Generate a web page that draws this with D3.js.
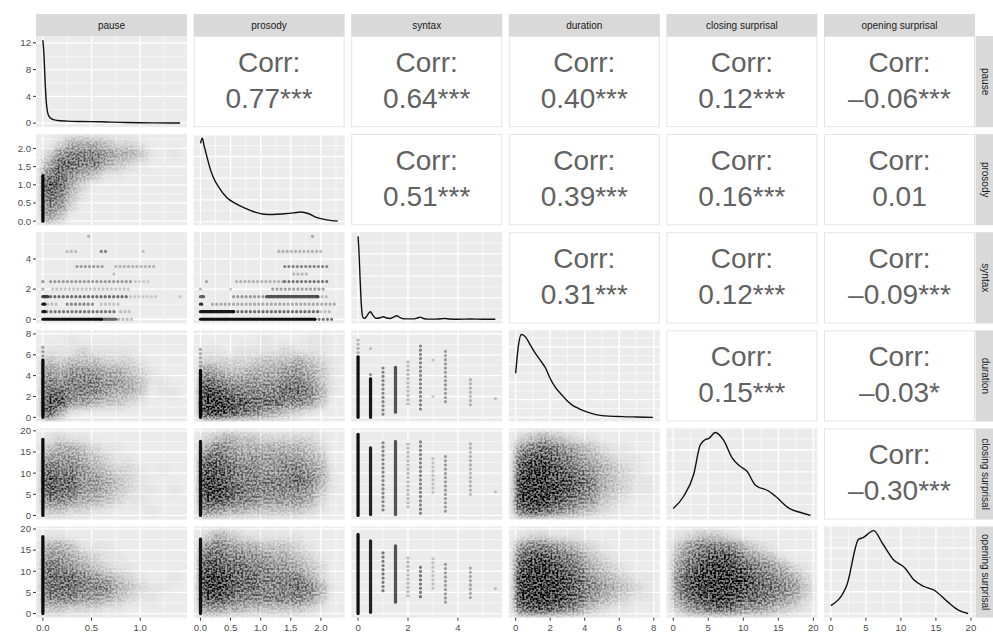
<!DOCTYPE html>
<html>
<head>
<meta charset="utf-8">
<script src="https://cdn.jsdelivr.net/npm/d3@7"></script>
<style>
  body { margin: 0; background: #fff; }
  text { font-family: "Liberation Sans", Arial, sans-serif; }
</style>
</head>
<body>
<svg id="chart" width="993" height="637"></svg>
<script>
// variables of the pairs plot
var variables = ["pause", "prosody", "syntax", "duration", "closing surprisal", "opening surprisal"];
var varMax = [1.41, 2.28, 5.5, 7.95, 19.6, 19.6];
var majorTicks = [[0, 0.5, 1], [0, 0.5, 1, 1.5, 2], [0, 2, 4], [0, 2, 4, 6, 8], [0, 5, 10, 15, 20], [0, 5, 10, 15, 20]];
var tickLabels = [["0.0", "0.5", "1.0"], ["0.0", "0.5", "1.0", "1.5", "2.0"], ["0", "2", "4"],
                  ["0", "2", "4", "6", "8"], ["0", "5", "10", "15", "20"], ["0", "5", "10", "15", "20"]];
var densityStep = [4, 0.5, 2, 0.1, 0.025, 0.025];
var densityTicks = [0, 4, 8, 12];

// correlations, upper triangle, row by row
var corrValues = [0.77, 0.64, 0.40, 0.12, -0.06, 0.51, 0.39, 0.16, 0.01, 0.31, 0.12, -0.09, 0.15, -0.03, -0.30];
var corrStars = ["***", "***", "***", "***", "***", "***", "***", "***", "", "***", "***", "***", "***", "*", "***"];

// diagonal densities [value, density]
var densityPause = [[0, 12.4], [0.01, 10.5], [0.024, 5.9], [0.036, 3], [0.048, 1.65], [0.06, 1.1], [0.075, 0.8],
  [0.1, 0.55], [0.15, 0.4], [0.25, 0.3], [0.4, 0.24], [0.59, 0.2], [0.7, 0.15], [0.85, 0.1], [1.0, 0.05],
  [1.15, 0.03], [1.3, 0.02], [1.41, 0.01]];
var densityProsody = [[0, 1.8], [0.03, 1.92], [0.06, 1.75], [0.11, 1.48], [0.17, 1.18], [0.22, 1.0], [0.3, 0.8],
  [0.44, 0.55], [0.58, 0.42], [0.72, 0.32], [0.9, 0.22], [1.06, 0.17], [1.2, 0.165], [1.39, 0.18], [1.55, 0.2],
  [1.67, 0.22], [1.8, 0.18], [1.94, 0.09], [2.1, 0.04], [2.28, 0.01]];
var densitySyntax = [[0, 7.6], [0.04, 6], [0.08, 3.8], [0.12, 1.8], [0.16, 0.6], [0.2, 0.2], [0.27, 0.12],
  [0.38, 0.45], [0.49, 0.74], [0.6, 0.4], [0.7, 0.14], [0.8, 0.14], [0.92, 0.22], [1.02, 0.28], [1.14, 0.16],
  [1.29, 0.12], [1.42, 0.25], [1.55, 0.37], [1.68, 0.2], [1.82, 0.1], [2.0, 0.08], [2.2, 0.08], [2.35, 0.14],
  [2.49, 0.24], [2.62, 0.12], [2.8, 0.06], [3.1, 0.06], [3.35, 0.09], [3.48, 0.12], [3.65, 0.07], [4.0, 0.05],
  [4.5, 0.07], [5.0, 0.05], [5.5, 0.05]];
var densityDuration = [[0, 0.25], [0.15, 0.4], [0.33, 0.47], [0.58, 0.455], [0.85, 0.41], [1.16, 0.36],
  [1.45, 0.32], [1.73, 0.28], [2.0, 0.22], [2.3, 0.17], [2.65, 0.13], [2.98, 0.094], [3.3, 0.068], [3.65, 0.05],
  [4.24, 0.027], [5.0, 0.01], [6.17, 0.004], [7.0, 0.002], [7.95, 0.0]];
var densityClosing = [[0, 0.008], [1.49, 0.022], [2.91, 0.047], [3.86, 0.081], [4.57, 0.087], [5.05, 0.088],
  [6.0, 0.095], [7.2, 0.086], [8.4, 0.066], [9.6, 0.056], [10.5, 0.051], [11.7, 0.035], [13.6, 0.028],
  [14.6, 0.022], [16.5, 0.0085], [18.4, 0.0028], [19.6, 0.0]];
var densityOpening = [[0, 0.009], [2.3, 0.033], [3.95, 0.085], [4.6, 0.087], [6.1, 0.095], [7.4, 0.08],
  [8.9, 0.062], [10.6, 0.052], [11.8, 0.039], [13.3, 0.031], [14.7, 0.027], [16.6, 0.014], [18.2, 0.004],
  [19.6, 0.0]];

// scatter clouds read as darkness 0-9, rows from top (high y) to bottom
var gridPauseProsody = ["024443221000", "256665443101", "477664321000", "675431100000",
                        "874200000000", "763100000000", "652000000000", "530000000000"];
var gridPauseDuration = ["001000000000", "111211110000", "323332221000", "545554432100",
                         "656665543110", "776665443011", "885543321000", "841000000000"];
var gridProsodyDuration = ["000001000110", "110111121110", "222223334321", "543344455431",
                           "765555566531", "987666677641", "998877766530", "998765432100"];
var gridPauseClosing = ["121100000000", "344321100000", "555432110000", "766543221010",
                        "877554321000", "877554321101", "665443211000", "332211000100"];
var gridProsodyClosing = ["234332222210", "465444444320", "776555555430", "887665566541",
                          "987666667641", "998766666531", "887665555420", "654433333210"];
var gridDurationClosing = ["234321100000", "567654321100", "788765432110", "899876543210",
                           "999887643211", "999987643211", "999876532100", "787654321000"];
var gridPauseOpening = ["110000000000", "443111000000", "554321100000", "765432110000",
                        "777654321001", "777666432110", "666554321100", "332221100000"];
var gridProsodyOpening = ["243211111000", "565443332100", "776655443210", "887766554320",
                          "998776666420", "998776667641", "887666666530", "554433333210"];
var gridDurationOpening = ["122111000000", "566543210000", "788765321000", "899876432100",
                           "999987543211", "999987654321", "999987543211", "788765321100"];
var gridClosingOpening = ["123321000000", "356665321000", "467887543100", "578998765421",
                          "689999876542", "689999877653", "578998776542", "356776554321"];

// point strips: horizontal [y, x0, x1, alpha], vertical [x, y0, y1, alpha]
var rowsPauseSyntax = [[0, 0, 0.6, 0.95], [0, 0.6, 0.75, 0.6], [0, 0.78, 0.95, 0.25],
  [0.5, 0, 0.02, 0.9], [0.5, 0.04, 0.75, 0.5], [0.5, 0.8, 0.9, 0.2],
  [1, 0, 0.02, 0.9], [1, 0.05, 0.15, 0.2], [1, 0.25, 0.55, 0.45], [1, 0.6, 0.8, 0.2],
  [1.5, 0, 0.05, 0.75], [1.5, 0.08, 0.88, 0.55], [1.5, 0.9, 1.2, 0.15], [1.5, 1.41, 1.41, 0.15],
  [2, 0, 0.02, 0.3], [2, 0.1, 0.9, 0.2], [2.5, 0, 0.02, 0.4], [2.5, 0.08, 0.9, 0.35], [2.5, 0.95, 1.1, 0.15],
  [3, 0.73, 0.73, 0.2], [3.5, 0.35, 0.65, 0.35], [3.5, 0.75, 1.17, 0.25],
  [4.5, 0.25, 0.35, 0.2], [4.5, 0.6, 0.65, 0.45], [4.5, 1.03, 1.03, 0.2], [5.5, 0.47, 0.47, 0.25]];
var rowsProsodySyntax = [[0, 0, 1.9, 0.95], [0, 1.9, 2.2, 0.55],
  [0.5, 0, 0.55, 0.9], [0.5, 0.55, 2.0, 0.55], [0.5, 2.0, 2.15, 0.2],
  [1, 0, 0.02, 0.8], [1, 0.2, 2.25, 0.3],
  [1.5, 0, 0.05, 0.6], [1.5, 0.55, 1.1, 0.35], [1.5, 1.1, 1.95, 0.65], [1.5, 1.95, 2.1, 0.2],
  [2, 0, 0.02, 0.25], [2, 0.5, 0.52, 0.2], [2, 1.2, 2.1, 0.35],
  [2.5, 0.1, 0.12, 0.3], [2.5, 0.6, 1.4, 0.25], [2.5, 1.4, 2.1, 0.5],
  [3, 1.55, 1.8, 0.25], [3.5, 1.4, 2.1, 0.45], [4.5, 1.3, 2.0, 0.25], [5.5, 1.86, 1.86, 0.3]];
var colsSyntaxDuration = [[0, 0, 5.8, 0.95], [0, 5.8, 7.8, 0.3],
  [0.5, 0, 3.7, 0.9], [0.5, 3.7, 4.5, 0.4], [0.5, 6.6, 6.6, 0.2],
  [1, 0.3, 5.0, 0.45], [1.5, 0.5, 4.8, 0.65], [2, 1.3, 5.5, 0.25], [2.5, 0.8, 6.9, 0.45],
  [3, 2.0, 2.3, 0.2], [3, 5.5, 5.5, 0.2], [3.5, 1.5, 6.5, 0.35], [4.5, 1.2, 3.8, 0.25], [5.5, 1.8, 1.8, 0.2]];
var colsSyntaxClosing = [[0, 0, 19.2, 0.95], [0.5, 0.2, 16, 0.85], [1, 1.3, 17.8, 0.45], [1.5, 0.2, 17.5, 0.65],
  [2, 2, 17, 0.25], [2.5, 0.5, 17.5, 0.45], [3, 5.5, 14, 0.2], [3.5, 1, 14, 0.35], [4.5, 5, 17.5, 0.25],
  [5.5, 5.6, 5.6, 0.2]];
var colsSyntaxOpening = [[0, 0, 18.7, 0.95], [0.5, 0.3, 17.2, 0.85], [1, 5.4, 14.8, 0.5], [1.5, 2.7, 16, 0.65],
  [2, 4.2, 13.6, 0.25], [2.5, 4, 11, 0.5], [3, 6, 13, 0.2], [3.5, 2.7, 11.8, 0.35], [4.5, 3.8, 11, 0.3],
  [5.5, 5.9, 5.9, 0.2]];
var barsPauseProsody = [[0, 0, 1.25, 0.95]];
var barsPauseDuration = [[0, 0, 5.5, 0.95], [0, 5.5, 6.8, 0.35]];
var barsProsodyDuration = [[0, 0, 4.5, 0.95], [0, 4.5, 6.8, 0.3]];
var barsPauseClosing = [[0, 0, 18, 0.95]];
var barsProsodyClosing = [[0, 0, 17.5, 0.9]];
var barsPauseOpening = [[0, 0, 18.2, 0.95]];
var barsProsodyOpening = [[0, 0, 17.6, 0.9]];

var densities = [densityPause, densityProsody, densitySyntax, densityDuration, densityClosing, densityOpening];
var scatter = {
  "1,0": { grid: gridPauseProsody, v: barsPauseProsody },
  "2,0": { h: rowsPauseSyntax },
  "2,1": { h: rowsProsodySyntax },
  "3,0": { grid: gridPauseDuration, v: barsPauseDuration },
  "3,1": { grid: gridProsodyDuration, v: barsProsodyDuration },
  "3,2": { v: colsSyntaxDuration },
  "4,0": { grid: gridPauseClosing, v: barsPauseClosing },
  "4,1": { grid: gridProsodyClosing, v: barsProsodyClosing },
  "4,2": { v: colsSyntaxClosing },
  "4,3": { grid: gridDurationClosing },
  "5,0": { grid: gridPauseOpening, v: barsPauseOpening },
  "5,1": { grid: gridProsodyOpening, v: barsProsodyOpening },
  "5,2": { v: colsSyntaxOpening },
  "5,3": { grid: gridDurationOpening },
  "5,4": { grid: gridClosingOpening }
};

// layout
var colX0 = 36, colStep = 157.6, panelW = 151;
var rowY0 = 36, rowStep = 98.1, panelH = 91.2;

var svg = d3.select("#chart");
var defs = svg.append("defs");
// soft cloud broken up into grains so it reads as many faint points
var speckle = defs.append("filter").attr("id", "soft")
  .attr("x", "-10%").attr("y", "-10%").attr("width", "120%").attr("height", "120%");
speckle.append("feGaussianBlur").attr("in", "SourceGraphic").attr("stdDeviation", 3).attr("result", "blur");
speckle.append("feTurbulence").attr("type", "fractalNoise").attr("baseFrequency", 0.5)
  .attr("numOctaves", 1).attr("seed", 11).attr("result", "noise");
speckle.append("feColorMatrix").attr("in", "noise").attr("type", "matrix")
  .attr("values", "0 0 0 0 0  0 0 0 0 0  0 0 0 0 0  3 0 0 0 -1.1").attr("result", "mask0");
speckle.append("feGaussianBlur").attr("in", "mask0").attr("stdDeviation", 0.5).attr("result", "mask");
speckle.append("feComposite").attr("in", "blur").attr("in2", "mask").attr("operator", "arithmetic")
  .attr("k1", 0.75).attr("k2", 0.45).attr("k3", 0).attr("k4", 0);
defs.append("clipPath").attr("id", "panelClip")
  .append("rect").attr("width", panelW).attr("height", panelH);

function expand(lo, hi) {
  var p = (hi - lo) * 0.05;
  return [lo - p, hi + p];
}
function minors(majors, domain) {
  var step = majors[1] - majors[0], out = [];
  for (var v = majors[0] - step / 2; v <= domain[1]; v += step) {
    if (v >= domain[0]) out.push(v);
  }
  return out;
}
function stepTicks(step, domain) {
  var out = [];
  for (var v = Math.ceil(domain[0] / step) * step; v <= domain[1] + 1e-9; v += step) out.push(+v.toFixed(6));
  return out;
}

var xScales = varMax.map(function(m) { return d3.scaleLinear().domain(expand(0, m)).range([0, panelW]); });
var yScales = varMax.map(function(m) { return d3.scaleLinear().domain(expand(0, m)).range([panelH, 0]); });
var densScales = densities.map(function(d) {
  return d3.scaleLinear().domain(expand.apply(null, d3.extent(d, function(p) { return p[1]; }))).range([panelH, 0]);
});
// darkness digit -> opacity, light cells stay faint
var shade = d3.scalePow().exponent(1.4).domain([0, 9]).range([0, 0.95]);

function drawGrid(g, xs, ys, xMaj, yMaj) {
  var xd = xs.domain(), yd = ys.domain();
  var xIn = xMaj.filter(function(v) { return v >= xd[0] && v <= xd[1]; });
  var yIn = yMaj.filter(function(v) { return v >= yd[0] && v <= yd[1]; });
  g.selectAll(null).data(minors(xMaj, xd)).enter().append("line")
    .attr("x1", xs).attr("x2", xs).attr("y1", 0).attr("y2", panelH)
    .attr("stroke", "#fff").attr("stroke-width", 0.6);
  g.selectAll(null).data(minors(yMaj, yd)).enter().append("line")
    .attr("y1", ys).attr("y2", ys).attr("x1", 0).attr("x2", panelW)
    .attr("stroke", "#fff").attr("stroke-width", 0.6);
  g.selectAll(null).data(xIn).enter().append("line")
    .attr("x1", xs).attr("x2", xs).attr("y1", 0).attr("y2", panelH)
    .attr("stroke", "#fff").attr("stroke-width", 1.3);
  g.selectAll(null).data(yIn).enter().append("line")
    .attr("y1", ys).attr("y2", ys).attr("x1", 0).attr("x2", panelW)
    .attr("stroke", "#fff").attr("stroke-width", 1.3);
}

var k = 0;
for (var r = 0; r < 6; r++) {
  for (var c = 0; c < 6; c++) {
    var px = colX0 + c * colStep, py = rowY0 + r * rowStep;
    var g = svg.append("g").attr("transform", "translate(" + px + "," + py + ")");

    if (c > r) {
      // correlation panel
      g.append("rect").attr("x", 0.5).attr("y", 0.5).attr("width", panelW - 1).attr("height", panelH - 1)
        .attr("fill", "#fff").attr("stroke", "#e4e4e4");
      var v = corrValues[k], label = (v < 0 ? "\u2013" : "") + Math.abs(v).toFixed(2) + corrStars[k];
      k++;
      g.append("text").attr("x", panelW / 2).attr("y", panelH / 2 - 10)
        .attr("text-anchor", "middle").attr("font-size", 28).attr("fill", "#626262").text("Corr:");
      g.append("text").attr("x", panelW / 2).attr("y", panelH / 2 + 26.5)
        .attr("text-anchor", "middle").attr("font-size", 28).attr("fill", "#626262").text(label);
      continue;
    }

    g.append("rect").attr("width", panelW).attr("height", panelH).attr("fill", "#ebebeb");
    var xs = xScales[c];
    var inner = g.append("g").attr("clip-path", "url(#panelClip)");

    if (r === c) {
      var ds = densScales[r];
      drawGrid(g.insert("g", "g"), xs, ds, majorTicks[c], stepTicks(densityStep[r], ds.domain()));
      var line = d3.line().x(function(d) { return xs(d[0]); }).y(function(d) { return ds(d[1]); })
        .curve(d3.curveMonotoneX);
      inner.append("path").datum(densities[r]).attr("d", line)
        .attr("fill", "none").attr("stroke", "#111").attr("stroke-width", 1.4);
    } else {
      var ys = yScales[r];
      drawGrid(g.insert("g", "g"), xs, ys, majorTicks[c], majorTicks[r]);
      var sp = scatter[r + "," + c];
      if (sp.grid) {
        var nR = sp.grid.length, nC = sp.grid[0].length;
        var cells = [];
        sp.grid.forEach(function(row, i) {
          row.split("").forEach(function(ch, j) { cells.push({ i: i, j: j, d: +ch }); });
        });
        var cx = varMax[c] / nC, cy = varMax[r] / nR;
        inner.append("g").attr("filter", "url(#soft)")
          .selectAll("rect").data(cells.filter(function(d) { return d.d > 0; })).enter().append("rect")
          .attr("x", function(d) { return xs(d.j * cx); })
          .attr("width", function(d) { return xs((d.j + 1) * cx) - xs(d.j * cx) + 0.5; })
          .attr("y", function(d) { return ys(varMax[r] - d.i * cy); })
          .attr("height", function(d) { return ys(varMax[r] - (d.i + 1) * cy) - ys(varMax[r] - d.i * cy) + 0.5; })
          .attr("fill", "#000").attr("fill-opacity", function(d) { return shade(d.d); });
      }
      if (sp.h) {
        inner.selectAll(null).data(sp.h).enter().append("line")
          .attr("x1", function(d) { return xs(d[1]); }).attr("x2", function(d) { return xs(d[2]); })
          .attr("y1", function(d) { return ys(d[0]); }).attr("y2", function(d) { return ys(d[0]); })
          .attr("stroke", "#000").attr("stroke-opacity", function(d) { return d[3]; })
          .attr("stroke-width", 3.2).attr("stroke-linecap", "round")
          .attr("stroke-dasharray", function(d) { return d[3] < 0.6 ? "0 4.2" : null; });
      }
      if (sp.v) {
        inner.selectAll(null).data(sp.v).enter().append("line")
          .attr("x1", function(d) { return xs(d[0]); }).attr("x2", function(d) { return xs(d[0]); })
          .attr("y1", function(d) { return ys(d[1]); }).attr("y2", function(d) { return ys(d[2]); })
          .attr("stroke", "#000").attr("stroke-opacity", function(d) { return d[3]; })
          .attr("stroke-width", 3.2).attr("stroke-linecap", "round")
          .attr("stroke-dasharray", function(d) { return d[3] < 0.6 ? "0 4.2" : null; });
      }
    }
  }
}

// top strips
variables.forEach(function(name, c) {
  var px = colX0 + c * colStep;
  svg.append("rect").attr("x", px).attr("y", 14).attr("width", panelW).attr("height", 22).attr("fill", "#d9d9d9");
  svg.append("text").attr("x", px + panelW / 2).attr("y", 25).attr("dy", "0.35em")
    .attr("text-anchor", "middle").attr("font-size", 10).attr("fill", "#1a1a1a").text(name);
});
// right strips
variables.forEach(function(name, r) {
  var py = rowY0 + r * rowStep, sx = colX0 + 5 * colStep + panelW + 0.6;
  svg.append("rect").attr("x", sx).attr("y", py).attr("width", 22).attr("height", panelH).attr("fill", "#d9d9d9");
  svg.append("text").attr("transform", "translate(" + (sx + 10) + "," + (py + panelH / 2) + ") rotate(90)")
    .attr("dy", "0.35em").attr("text-anchor", "middle").attr("font-size", 10).attr("fill", "#1a1a1a").text(name);
});

// left axis
for (var r2 = 0; r2 < 6; r2++) {
  var py2 = rowY0 + r2 * rowStep;
  var sc = r2 === 0 ? densScales[0] : yScales[r2];
  var vals = r2 === 0 ? densityTicks : majorTicks[r2];
  var labs = r2 === 0 ? densityTicks.map(String) : tickLabels[r2];
  var ga = svg.append("g").attr("transform", "translate(" + colX0 + "," + py2 + ")");
  vals.forEach(function(v, i) {
    ga.append("line").attr("x1", -3).attr("x2", 0).attr("y1", sc(v)).attr("y2", sc(v))
      .attr("stroke", "#333").attr("stroke-width", 1);
    ga.append("text").attr("x", -5).attr("y", sc(v)).attr("dy", "0.35em").attr("text-anchor", "end")
      .attr("font-size", 9.6).attr("fill", "#4d4d4d").text(labs[i]);
  });
}
// bottom axis
for (var c2 = 0; c2 < 6; c2++) {
  var px2 = colX0 + c2 * colStep, by = rowY0 + 5 * rowStep + panelH;
  var gb = svg.append("g").attr("transform", "translate(" + px2 + "," + by + ")");
  majorTicks[c2].forEach(function(v, i) {
    var x = xScales[c2](v);
    gb.append("line").attr("x1", x).attr("x2", x).attr("y1", 0).attr("y2", 3)
      .attr("stroke", "#333").attr("stroke-width", 1);
    gb.append("text").attr("x", x).attr("y", 13).attr("text-anchor", "middle")
      .attr("font-size", 9.6).attr("fill", "#4d4d4d").text(tickLabels[c2][i]);
  });
}
</script>
</body>
</html>
